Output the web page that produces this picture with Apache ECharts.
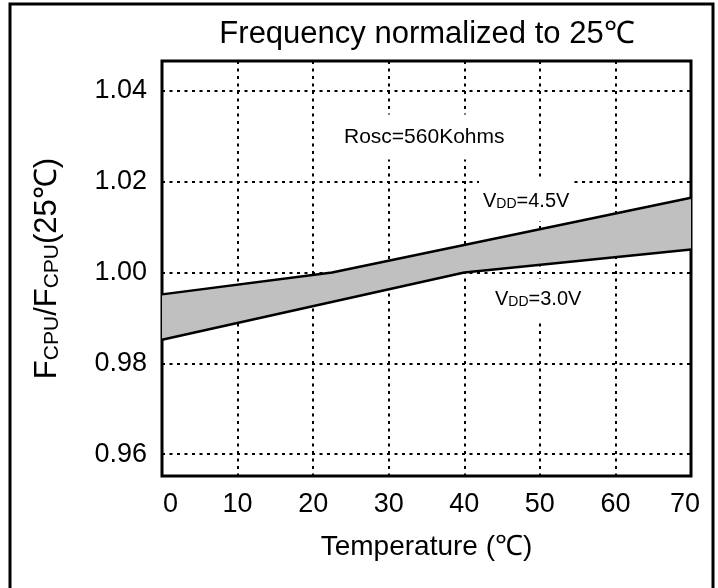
<!DOCTYPE html>
<html><head><meta charset="utf-8">
<script src="https://cdn.jsdelivr.net/npm/echarts@6/dist/echarts.min.js"></script>
<style>html,body{margin:0;padding:0;background:#fff}#c{width:718px;height:588px}</style>
</head><body><div id="c"></div>
<script>
const FONT = "'Liberation Sans', Arial, sans-serif";
const chartTitle = 'Frequency normalized to 25℃';
const xAxisName = 'Temperature (℃)';
const yAxisName = 'F{s|CPU}/F{s|CPU}(25℃)';
// VDD = 4.5V (upper edge of band)
const hiTemps = [0, 22.5, 70];
const hiValues = [0.9952, 1.0000, 1.0165];
// VDD = 3.0V (lower edge of band)
const loTemps = [0, 40, 70];
const loValues = [0.9852, 1.0000, 1.0051];
const xTickLabels = ['0', '10', '20', '30', '40', '50', '60', '70'];
const yTickLabels = ['0.96', '0.98', '1.00', '1.02', '1.04'];
const noteRosc = 'Rosc=560Kohms';
const noteHi = 'V{s|DD}=4.5V';
const noteLo = 'V{s|DD}=3.0V';

const chart = echarts.init(document.getElementById('c'), null, {renderer: 'canvas'});
const dotted = {color: '#000', width: 2, type: [3, 4.5]};
const lbl = {fontFamily: FONT, color: '#000'};

chart.setOption({
  animation: false,
  backgroundColor: '#fff',
  title: {
    text: chartTitle, left: 427, top: 19, textAlign: 'center', padding: 0,
    textStyle: {fontFamily: FONT, fontSize: 31, fontWeight: 'normal', color: '#000'}
  },
  grid: {left: 162, right: 27, top: 61, bottom: 112, show: true, borderColor: '#000', borderWidth: 3, backgroundColor: 'transparent'},
  xAxis: {
    type: 'value', min: 0, max: 70, interval: 10,
    name: xAxisName, nameLocation: 'middle', nameGap: 57,
    nameTextStyle: Object.assign({fontSize: 28}, lbl),
    axisLine: {show: false}, axisTick: {show: false},
    splitLine: {show: true, lineStyle: dotted},
    axisLabel: Object.assign({
      fontSize: 27, margin: 15,
      formatter: function (v) {
        const s = String(v);
        if (!xTickLabels.includes(s)) return '';
        if (v === 0) return '{l|' + s + '}';
        if (v === 70) return '{r|' + s + '}';
        return s;
      },
      rich: {
        l: Object.assign({fontSize: 27, padding: [0, 0, 0, 17]}, lbl),
        r: Object.assign({fontSize: 27, padding: [0, 12, 0, 0]}, lbl)
      }
    }, lbl)
  },
  yAxis: {
    type: 'value', min: 0.9552, max: 1.0466, minInterval: 0.02, maxInterval: 0.02,
    name: yAxisName, nameLocation: 'middle', nameGap: 99,
    nameTextStyle: Object.assign({fontSize: 31, rich: {s: Object.assign({fontSize: 21, verticalAlign: 'bottom'}, lbl)}}, lbl),
    axisLine: {show: false}, axisTick: {show: false},
    splitLine: {show: true, lineStyle: dotted},
    axisLabel: Object.assign({
      fontSize: 27, margin: 15, showMinLabel: false, showMaxLabel: false,
      formatter: function (v) { const s = v.toFixed(2); return yTickLabels.includes(s) ? s : ''; }
    }, lbl)
  },
  series: [
    {
      type: 'custom', name: 'band', z: 1, clip: true,
      data: [[35, 1.0]],
      renderItem: function (params, api) {
        const pts = [];
        for (let i = 0; i < hiTemps.length; i++) pts.push(api.coord([hiTemps[i], hiValues[i]]));
        for (let i = loTemps.length - 1; i >= 0; i--) pts.push(api.coord([loTemps[i], loValues[i]]));
        return {type: 'polygon', shape: {points: pts}, style: {fill: '#c0c0c0', stroke: null}};
      },
      silent: true
    },
    {
      type: 'line', name: 'VDD=4.5V', z: 3, showSymbol: false, symbol: 'none',
      data: hiTemps.map((t, i) => [t, hiValues[i]]),
      lineStyle: {color: '#000', width: 2.5}
    },
    {
      type: 'line', name: 'VDD=3.0V', z: 3, showSymbol: false, symbol: 'none',
      data: loTemps.map((t, i) => [t, loValues[i]]),
      lineStyle: {color: '#000', width: 2.5}
    }
  ],
  graphic: [
    {type: 'rect', silent: true, z: 100, shape: {x: 10, y: 4, width: 703, height: 600}, style: {fill: 'none', stroke: '#000', lineWidth: 3}},
    {type: 'text', z: 100, x: 340, y: 137, style: {text: noteRosc, font: '21px ' + FONT, fill: '#000', verticalAlign: 'middle',
      backgroundColor: '#fff', padding: [12, 4, 12, 4]}},
    {type: 'text', z: 100, x: 479, y: 201, style: {text: noteHi, fontFamily: FONT, fontSize: 20, fill: '#000', verticalAlign: 'middle',
      backgroundColor: '#fff', padding: [10, 4, 10, 4],
      rich: {s: {fontFamily: FONT, fontSize: 14, fill: '#000', verticalAlign: 'bottom'}}}},
    {type: 'text', z: 100, x: 491, y: 299, style: {text: noteLo, fontFamily: FONT, fontSize: 20, fill: '#000', verticalAlign: 'middle',
      backgroundColor: '#fff', padding: [10, 4, 10, 4],
      rich: {s: {fontFamily: FONT, fontSize: 14, fill: '#000', verticalAlign: 'bottom'}}}}
  ]
});
</script></body></html>
